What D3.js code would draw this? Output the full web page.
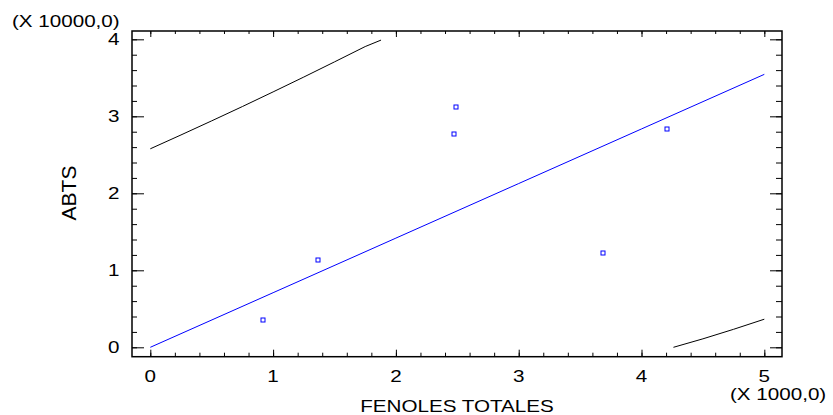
<!DOCTYPE html>
<html>
<head>
<meta charset="utf-8">
<script src="https://cdn.jsdelivr.net/npm/d3@7"></script>
<style>
  body { margin: 0; background: #fff; }
  text { font-family: "Liberation Sans", Arial, sans-serif; fill: #000; }
</style>
</head>
<body>
<div id="canvas"></div>
<script>
// tick labels and titles
var xMajor = [0, 1, 2, 3, 4, 5];
var yMajor = [0, 1, 2, 3, 4];
var xTitle = "FENOLES TOTALES";
var yTitle = "ABTS";
var xMult = "(X 1000,0)";
var yMult = "(X 10000,0)";

// observed points (x in thousands, y in ten-thousands)
var obsX = [0.919, 1.366, 2.477, 2.491, 3.689, 4.211];
var obsY = [0.357, 1.132, 2.773, 3.127, 1.227, 2.834];

// fitted line
var fitX = [0, 1, 2, 3, 4, 5];
var fitY = [0, 0.709, 1.418, 2.127, 2.836, 3.545];

// upper and lower limits (clipped to the plot)
var upX = [0, 0.25, 0.5, 0.75, 1, 1.25, 1.5, 1.75, 1.879];
var upY = [2.578, 2.758, 2.941, 3.127, 3.317, 3.51, 3.707, 3.906, 3.99];
var loX = [4.26, 4.5, 4.75, 5];
var loY = [0, 0.11, 0.234, 0.365];

var W = 833, H = 415;
var fs = 16.5, sx = 1.25;

var svg = d3.select("#canvas").append("svg")
  .attr("width", W)
  .attr("height", H);

var x = d3.scaleLinear().domain([-0.149, 5.144]).range([132, 782]);
var y = d3.scaleLinear().domain([-0.122, 4.108]).range([356.7, 31]);

var xMinor = d3.range(0, 5.001, 0.2).map(function(d) { return +d.toFixed(1); });
var yMinor = d3.range(0, 4.001, 0.2).map(function(d) { return +d.toFixed(1); });

function styleAxis(g) {
  g.select(".domain").remove();
  g.selectAll("line").attr("stroke", "#000").attr("stroke-width", 1);
}

// bottom / top ticks (inside)
svg.append("g").attr("transform", "translate(0," + y.range()[0] + ")")
  .call(d3.axisBottom(x).tickValues(xMinor).tickSize(-4).tickFormat("")).call(styleAxis);
svg.append("g").attr("transform", "translate(0," + y.range()[0] + ")")
  .call(d3.axisBottom(x).tickValues(xMajor).tickSize(-7).tickFormat("")).call(styleAxis);
svg.append("g").attr("transform", "translate(0," + y.range()[1] + ")")
  .call(d3.axisTop(x).tickValues(xMinor).tickSize(-3).tickFormat("")).call(styleAxis);
svg.append("g").attr("transform", "translate(0," + y.range()[1] + ")")
  .call(d3.axisTop(x).tickValues(xMajor).tickSize(-6).tickFormat("")).call(styleAxis);

// left / right ticks (inside)
svg.append("g").attr("transform", "translate(" + x.range()[0] + ",0)")
  .call(d3.axisLeft(y).tickValues(yMinor).tickSize(-5).tickFormat("")).call(styleAxis);
svg.append("g").attr("transform", "translate(" + x.range()[0] + ",0)")
  .call(d3.axisLeft(y).tickValues(yMajor).tickSize(-12).tickFormat("")).call(styleAxis);
svg.append("g").attr("transform", "translate(" + x.range()[1] + ",0)")
  .call(d3.axisRight(y).tickValues(yMinor).tickSize(-6).tickFormat("")).call(styleAxis);
svg.append("g").attr("transform", "translate(" + x.range()[1] + ",0)")
  .call(d3.axisRight(y).tickValues(yMajor).tickSize(-12).tickFormat("")).call(styleAxis);

// frame
svg.append("rect")
  .attr("x", x.range()[0]).attr("y", y.range()[1])
  .attr("width", x.range()[1] - x.range()[0])
  .attr("height", y.range()[0] - y.range()[1])
  .attr("fill", "none").attr("stroke", "#000").attr("stroke-width", 1.5);

// tick labels (text is drawn a bit wide, like the reference)
function label(px, py, str, anchor, rot) {
  svg.append("text")
    .attr("transform", "translate(" + px + "," + py + ")" + (rot ? " rotate(-90)" : " scale(" + sx + ",1)"))
    .attr("text-anchor", anchor)
    .style("font-size", (rot ? 21 : fs) + "px")
    .text(str);
}

xMajor.forEach(function(d) { label(x(d), 381.5, d, "middle"); });
yMajor.forEach(function(d) { label(119.5, y(d) + 5.5, d, "end"); });

label(457, 411.5, xTitle, "middle");
label(75.5, 193, yTitle, "middle", true);
label(730, 399.5, xMult, "start");
label(12, 26.5, yMult, "start");

// lines
var line = d3.line()
  .x(function(d) { return x(d[0]); })
  .y(function(d) { return y(d[1]); });

svg.append("path")
  .datum(d3.zip(upX, upY))
  .attr("d", line)
  .attr("fill", "none").attr("stroke", "#000").attr("stroke-width", 1);

svg.append("path")
  .datum(d3.zip(loX, loY))
  .attr("d", line)
  .attr("fill", "none").attr("stroke", "#000").attr("stroke-width", 1);

svg.append("path")
  .datum(d3.zip(fitX, fitY))
  .attr("d", line)
  .attr("fill", "none").attr("stroke", "#0000ff").attr("stroke-width", 1);

// points
svg.append("g").selectAll("rect")
  .data(d3.zip(obsX, obsY))
  .enter().append("rect")
  .attr("x", function(d) { return Math.round(x(d[0])) - 2; })
  .attr("y", function(d) { return Math.round(y(d[1])) - 2; })
  .attr("width", 4).attr("height", 4)
  .attr("fill", "none").attr("stroke", "#0000ff").attr("stroke-width", 1);
</script>
</body>
</html>
